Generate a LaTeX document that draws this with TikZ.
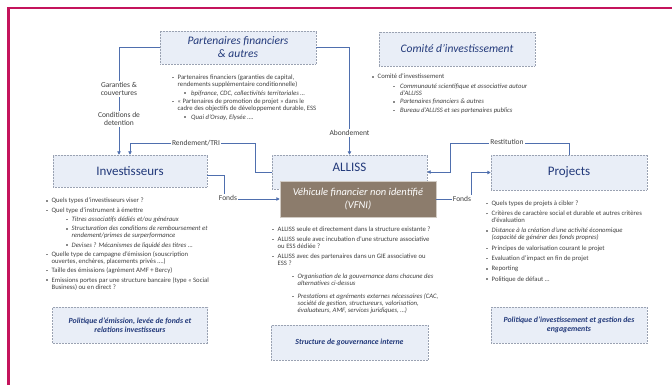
\documentclass[tikz,border=0pt]{standalone}
\usepackage{fontspec}
\setmainfont{Carlito}
\usetikzlibrary{arrows.meta}
\definecolor{framec}{HTML}{C4145C}
\definecolor{hdr}{HTML}{22397A}
\definecolor{boxfill}{HTML}{E9EEF7}
\definecolor{boxline}{HTML}{9AA2B2}
\definecolor{lnk}{HTML}{4F6FAE}
\definecolor{vfnic}{HTML}{8C7C6C}
\definecolor{txt}{HTML}{3F3F3F}
\definecolor{bulc}{HTML}{8A8A8A}
\newcommand{\bsq}{\textcolor{bulc}{\rule[1.3pt]{1.4pt}{1.4pt}}}
\newcommand{\LA}{\makebox[5.5pt][l]{\bsq}}
\newcommand{\LB}[1][20pt]{\hspace*{#1}\makebox[5.5pt][l]{\bsq}}
\newcommand{\CA}{\hspace*{5.5pt}}
\newcommand{\CB}[1][20pt]{\hspace*{#1}\hspace*{5.5pt}}
\begin{document}
\begin{tikzpicture}[x=1pt,y=-1pt,
 hbox/.style={draw=boxline, densely dotted, line width=0.5pt, fill=boxfill, text=hdr, align=center, inner sep=0pt},
 conn/.style={draw=lnk, line width=0.8pt, -{Triangle[length=3.4pt,width=3.4pt]}},
 lbl/.style={fill=white, text=txt, font=\fontsize{7.5}{8.7}\selectfont, align=center, inner sep=1pt},
 lst/.style={anchor=north west, inner sep=0pt, align=left, text=txt, font=\fontsize{6.7}{7}\selectfont},
 ttl/.style={font=\fontsize{11.5}{13}\selectfont\itshape},
 big/.style={font=\fontsize{13}{15}\selectfont},
 pol/.style={font=\fontsize{7.8}{9.5}\selectfont\bfseries\itshape},
]
\useasboundingbox (0,0) rectangle (672,385);
\begin{scope}
\clip (0,0) rectangle (672,385);
\draw[framec, line width=2.5pt] (8.5,8) rectangle (690,400);
\end{scope}

% boxes
\node[hbox, ttl, minimum width=156pt, minimum height=33pt] (partners) at (238,47.5) {Partenaires financiers\\\& autres};
\node[hbox, ttl, minimum width=156pt, minimum height=34pt] (comite) at (457,49) {Comité d’investissement};
\node[hbox, big, minimum width=154pt, minimum height=32pt] (inv) at (130,171) {Investisseurs};
\node[hbox, big, minimum width=155pt, minimum height=34pt, text depth=9pt] (alliss) at (349.5,172) {ALLISS};
\node[draw=white!60!vfnic, line width=0.5pt, fill=vfnic, text=white, align=center, inner sep=0pt,
      font=\fontsize{10.5}{13}\selectfont\itshape, minimum width=156pt, minimum height=36pt] (vfni) at (358,199)
      {Véhicule financier non identifié\\(VFNI)};
\node[hbox, big, minimum width=156pt, minimum height=35pt] (projects) at (569,172.5) {Projects};
\node[hbox, pol, minimum width=155pt, minimum height=36pt] (pol1) at (130,325) {Politique d’émission, levée de fonds et\\relations investisseurs};
\node[hbox, pol, minimum width=157pt, minimum height=35pt] (gov) at (349.5,342.5) {Structure de gouvernance interne};
\node[hbox, pol, minimum width=156pt, minimum height=36pt] (pol2) at (569,325) {Politique d’investissement et gestion des\\engagements};

% connectors
\coordinate (c1) at (119,47.5);
\draw[conn] (partners.west) -- (c1) -- (c1 |- inv.north);
\node[lbl] (gar) at (119,89) {Garanties \&\\couvertures};
\node[lbl] (cond) at (119,119) {Conditions de\\detention};

\coordinate (r1) at (255,143);
\draw[conn] (alliss.west) -| (r1) -| (inv.north);
\node[lbl] (rend) at (196,143) {Rendement/TRI};

\draw[conn] (partners.east) -| (alliss.north);
\node[lbl] (abon) at (349.5,133) {Abondement};

\coordinate (s1) at (450,143);
\draw[conn] (projects.north) |- (s1) |- (alliss.east);
\node[lbl] (rest) at (507,142) {Restitution};

\coordinate (f1) at (224,199);
\draw[conn] ([yshift=-4pt]inv.east) -| (f1) -- (vfni.west);
\node[lbl] (fonds1) at (228,198) {Fonds};

\coordinate (f2) at (471,199);
\draw[conn] (vfni.east) -- (f2) |- (projects.west);
\node[lbl] (fonds2) at (462,199) {Fonds};

% lists
\node[lst] (lpart) at (172,74.5) {%
\LA Partenaires financiers (garanties de capital,\\
\CA rendements supplémentaire conditionnelle)\\[1.5pt]
\LB[12pt] \textit{bpifrance, CDC, collectivités territoriales …}\\[1.5pt]
\LA « Partenaires de promotion de projet » dans le\\
\CA cadre des objectifs de développement durable, ESS\\[1.5pt]
\LB[12pt] \textit{Quai d’Orsay, Elysée ….}};

\node[lst] (lcom) at (372,74) {%
\LA Comité d’investissement\\[2.5pt]
\LB[21pt] \textit{Communauté scientifique et associative autour}\\
\CB[21pt] \textit{d’ALLISS}\\[1.5pt]
\LB[21pt] \textit{Partenaires financiers \& autres}\\[1.5pt]
\LB[21pt] \textit{Bureau d’ALLISS et ses partenaires publics}};

\node[lst] (linv) at (46,198) {%
\LA Quels types d’investisseurs viser ?\\[2.3pt]
\LA Quel type d’instrument à émettre\\[2.3pt]
\LB \textit{Titres associatifs dédiés et/ou généraux}\\[2.3pt]
\LB \textit{Structuration des conditions de remboursement et}\\
\CB \textit{rendement/primes de surperformance}\\[2.3pt]
\LB \textit{Devises ? Mécanismes de liquidé des titres …}\\[2.3pt]
\LA Quelle type de campagne d’émission (souscription\\
\CA ouvertes, enchères, placements privés ….)\\[2.3pt]
\LA Taille des émissions (agrément AMF + Bercy)\\[2.3pt]
\LA Emissions portes par une structure bancaire (type « Social\\
\CA Business) ou en direct ?};

\node[lst] (lall) at (272,226.5) {%
\LA ALLISS seule et directement dans la structure existante ?\\[3pt]
\LA ALLISS seule avec incubation d’une structure associative\\
\CA ou ESS dédiée ?\\[3pt]
\LA ALLISS avec des partenaires dans un GIE associative ou\\
\CA ESS ?\\[6pt]
\LB \textit{Organisation de la gouvernance dans chacune des}\\
\CB \textit{alternatives ci-dessus}\\[6pt]
\LB \textit{Prestations et agréments externes nécessaires (CAC,}\\
\CB \textit{société de gestion, structureurs, valorisation,}\\
\CB \textit{évaluateurs, AMF, services juridiques, …)}};

\node[lst] (lproj) at (486,200.5) {%
\LA Quels types de projets à cibler ?\\[3.3pt]
\LA Critères de caractère social et durable et autres critères\\
\CA d’évaluation\\[3.3pt]
\LA \textit{Distance à la création d’une activité économique}\\
\CA \textit{(capacité de générer des fonds propres)}\\[3.3pt]
\LA Principes de valorisation courant le projet\\[3.3pt]
\LA Evaluation d’impact en fin de projet\\[3.3pt]
\LA Reporting\\[3.3pt]
\LA Politique de défaut …};
\end{tikzpicture}
\end{document}
